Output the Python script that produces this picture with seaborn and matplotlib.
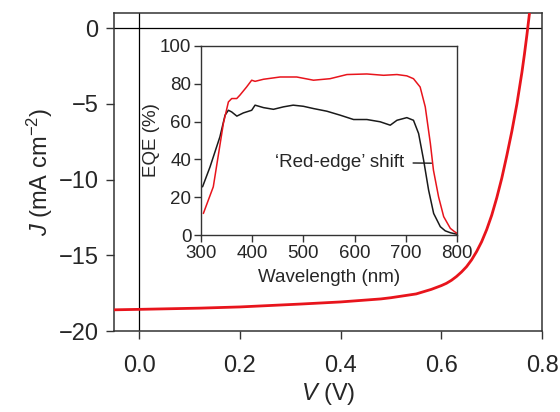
import matplotlib
matplotlib.use("Agg")
import matplotlib.pyplot as plt
import seaborn as sns
import pandas as pd

# J-V curve (main)
V = [-0.05, 0.0, 0.12, 0.2, 0.32, 0.4, 0.48, 0.5, 0.55, 0.58, 0.60, 0.61, 0.62, 0.63, 0.64, 0.65, 0.66, 0.67, 0.68,
     0.69, 0.70, 0.71, 0.72, 0.73, 0.74, 0.75, 0.76, 0.765, 0.77, 0.775]
J = [-18.6, -18.57, -18.49, -18.41, -18.22, -18.08, -17.88, -17.8, -17.55, -17.25, -17.0, -16.85, -16.65, -16.4,
     -16.1, -15.75, -15.3, -14.75, -14.1, -13.3, -12.35, -11.2, -9.9, -8.4, -6.8, -5.0, -2.9, -1.7, -0.4, 1.0]

# EQE curves (inset)
wl_red = [304.6, 324, 343.7, 353.5, 360, 369.8, 376, 389, 399, 405.6, 422, 454.5, 487, 519.7, 552, 585, 624, 656.6,
          682.7, 702, 715, 728, 738, 748, 754, 764, 774, 787, 795, 800]
eqe_red = [11.4, 25.5, 59, 70.4, 72.2, 72.2, 74, 78.3, 81.9, 81.3, 82.4, 83.6, 83.6, 81.9, 82.7, 84.9, 85.2, 84.5,
           84.9, 84.2, 82.7, 78.3, 67.8, 48.4, 34.3, 20.2, 9.7, 3.5, 1.8, 0.9]
wl_blk = [303, 317.6, 337, 347, 353.5, 360, 370, 382.8, 399, 405.6, 422, 441.5, 461, 480, 500, 519.7, 545.8, 571.8,
          598, 624, 650, 669.6, 682.7, 702, 715, 725, 734.8, 744.5, 754.4, 767.4, 777, 787, 800]
eqe_blk = [25.5, 36, 52, 63.4, 66, 65.1, 62.9, 64.6, 66, 68.7, 67.4, 66.5, 67.8, 68.7, 68.1, 66.9, 65.5, 63.4,
           61.1, 61.1, 59.9, 58.1, 60.7, 62.1, 60.7, 53.7, 39.6, 23.8, 11.4, 4.4, 2.2, 1.2, 0.4]

main_xticks = [0.0, 0.2, 0.4, 0.6, 0.8]
main_yticks = [0, -5, -10, -15, -20]
inset_xticks = [300, 400, 500, 600, 700, 800]
inset_yticks = [0, 20, 40, 60, 80, 100]

sns.set_style("ticks")
plt.rcParams['font.family'] = ['Liberation Sans', 'DejaVu Sans']
plt.rcParams['mathtext.fontset'] = 'custom'
plt.rcParams['mathtext.rm'] = 'Liberation Sans'
plt.rcParams['mathtext.it'] = 'Liberation Sans:italic'

RED = '#e8141c'
SPINE = '#333333'
MAIN_FS = 17
INS_FS = 13.5

fig = plt.figure(figsize=(5.6, 4.12), dpi=100)
ax = fig.add_axes([0.2036, 0.1966, 0.968 - 0.2036, 0.968 - 0.1966])

ax.axhline(0, color='black', lw=0.9, zorder=1)
ax.axvline(0, color='black', lw=0.9, zorder=1)
sns.lineplot(data=pd.DataFrame({'V': V, 'J': J}), x='V', y='J', ax=ax, color=RED, lw=2.0, sort=False, zorder=3)

ax.set_xlim(-0.05, 0.8)
ax.set_ylim(-20, 1.0)
ax.set_xticks(main_xticks)
ax.set_xticklabels([f"{t:.1f}" for t in main_xticks])
ax.set_yticks(main_yticks)
ax.set_yticklabels(["0" if t == 0 else f"\u2212{abs(t)}" for t in main_yticks])
ax.tick_params(axis='both', direction='out', length=6, width=1.0, labelsize=MAIN_FS, color=SPINE,
               top=False, right=False)
ax.tick_params(axis='x', pad=11)
ax.tick_params(axis='y', pad=5)
for s in ax.spines.values():
    s.set_color(SPINE)
    s.set_linewidth(1.1)
ax.set_xlabel(r"$\it{V}$ (V)", fontsize=MAIN_FS, labelpad=3)
ax.set_ylabel(r"$\it{J}$ (mA cm$^{\rm{-2}}$)", fontsize=MAIN_FS, labelpad=3)

# inset
ins = fig.add_axes([201 / 560, 1 - 235 / 412, 256 / 560, 189 / 412])
sns.lineplot(x=wl_blk, y=eqe_blk, ax=ins, color='#1a1a1a', lw=1.1, sort=False)
sns.lineplot(x=wl_red, y=eqe_red, ax=ins, color=RED, lw=1.1, sort=False)
ins.set_xlim(300, 800)
ins.set_ylim(0, 100)
ins.set_xticks(inset_xticks)
ins.set_yticks(inset_yticks)
ins.tick_params(axis='both', direction='out', length=5, width=1.0, labelsize=INS_FS, color=SPINE, pad=2,
                top=False, right=False)
for s in ins.spines.values():
    s.set_color(SPINE)
    s.set_linewidth(1.0)
ins.set_xlabel("Wavelength (nm)", fontsize=INS_FS, labelpad=5)
ins.set_ylabel("EQE (%)", fontsize=INS_FS, labelpad=0)
ins.annotate("\u2018Red-edge\u2019 shift", xy=(750, 38), xytext=(697, 38.5),
             fontsize=INS_FS, ha='right', va='center',
             arrowprops=dict(arrowstyle='-', color='#1a1a1a', lw=1.0, shrinkA=4, shrinkB=0))

fig.savefig("out.png", dpi=100)
